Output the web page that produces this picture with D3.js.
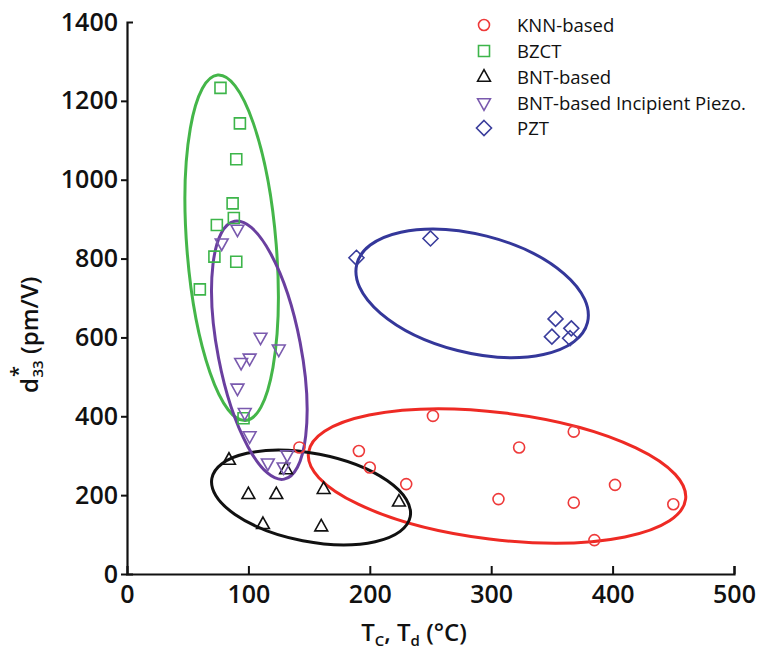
<!DOCTYPE html>
<html><head><meta charset="utf-8">
<script src="https://cdn.jsdelivr.net/npm/d3@7"></script>
<style>body{margin:0;background:#fff}svg{display:block}</style>
</head><body>
<svg id="chart" width="759" height="651"></svg>
<script>
// ---- data ----
const seriesNames = ["KNN-based", "BZCT", "BNT-based", "BNT-based Incipient Piezo.", "PZT"];
const knnT  = [252, 368, 323, 191, 142, 200, 230, 402, 306, 368, 450, 385];
const knnD  = [401, 361, 321, 312, 321, 270, 228, 226, 190, 181, 177, 86];
const bzctT = [77, 93, 90, 87, 88, 74, 72, 90, 60, 96];
const bzctD = [1233, 1143, 1052, 940, 903, 885, 805, 792, 722, 395];
const bntT  = [84, 100, 123, 162, 224, 112, 160, 131];
const bntD  = [289, 202, 202, 215, 183, 126, 120, 265];
const incT  = [91, 78, 110, 125, 101, 94, 91, 97, 101, 116, 129, 132];
const incD  = [874, 839, 600, 570, 547, 536, 471, 409, 350, 281, 271, 302];
const pztT  = [189, 250, 353, 366, 350, 365];
const pztD  = [802, 851, 647, 623, 602, 598];
// cluster ellipses (centre and semi-axes in data units, tilt in degrees)
const ellCx    = [304.8, 86.2, 151.6, 109.0, 284.3];
const ellCy    = [248.5, 827.3, 194.0, 567.6, 711.9];
const ellRx    = [156.5, 36.8, 83.2, 34.2, 98.0];
const ellRy    = [161.0, 439.5, 111.6, 333.0, 149.6];
const ellTilt  = [7, -4.6, 11, -10.9, 14.25];
const xTicks = [0, 100, 200, 300, 400, 500];
const yTicks = [0, 200, 400, 600, 800, 1000, 1200, 1400];

// ---- styles ----
const markerColors = ["#ee3a3a", "#3db54a", "#111111", "#7a5aae", "#3a3d9c"];
const ellColors    = ["#ee2a24", "#44b649", "#111111", "#6a3f9f", "#34379a"];
const shapes = ["circle", "square", "triUp", "triDown", "diamond"];

const svg = d3.select("#chart");
const x = d3.scaleLinear().domain([0, 500]).range([127, 734]);
const y = d3.scaleLinear().domain([0, 1400]).range([574, 22]);
const FONT = "'Open Sans', sans-serif";

function shapePath(s) {
  switch (s) {
    case "circle": return "M5.5,0A5.5,5.5 0 1,1 -5.5,0A5.5,5.5 0 1,1 5.5,0Z";
    case "square": return "M-5.5,-5.5H5.5V5.5H-5.5Z";
    case "triUp": return "M0,-7.3L6.4,4.2L-6.4,4.2Z";
    case "triDown": return "M0,7.3L6.4,-4.2L-6.4,-4.2Z";
    case "diamond": return "M0,-7.5L7.5,0L0,7.5L-7.5,0Z";
  }
}

// ---- ellipses ----
const gE = svg.append("g");
ellCx.forEach((cx, i) => {
  const px = x(cx), py = y(ellCy[i]);
  gE.append("ellipse")
    .attr("cx", px).attr("cy", py)
    .attr("rx", x(ellRx[i]) - x(0))
    .attr("ry", y(0) - y(ellRy[i]))
    .attr("transform", `rotate(${ellTilt[i]},${px},${py})`)
    .attr("fill", "none").attr("stroke", ellColors[i]).attr("stroke-width", 3);
});

// ---- markers ----
const series = [[knnT, knnD], [bzctT, bzctD], [bntT, bntD], [incT, incD], [pztT, pztD]];
series.forEach(([ts, ds], i) => {
  const g = svg.append("g");
  ts.forEach((t, j) => {
    g.append("path").attr("d", shapePath(shapes[i]))
      .attr("transform", `translate(${x(t)},${y(ds[j])})`)
      .attr("fill", "none").attr("stroke", markerColors[i]).attr("stroke-width", 1.6);
  });
});

// ---- axes ----
const xAxis = d3.axisBottom(x).tickValues(xTicks).tickFormat(d3.format("d"))
  .tickSizeInner(-8).tickSizeOuter(-8).tickPadding(11);
const gx = svg.append("g").attr("transform", `translate(0,${y(0)})`).call(xAxis);
const yAxis = d3.axisLeft(y).tickValues(yTicks).tickFormat(d3.format("d"))
  .tickSizeInner(6).tickSizeOuter(-6).tickPadding(3);
const gy = svg.append("g").attr("transform", `translate(${x(0)},0)`).call(yAxis);
gy.selectAll(".tick").filter(d => d === 1400).select("line").remove();
[gx, gy].forEach(g => {
  g.select(".domain").attr("stroke", "#111").attr("stroke-width", 2.2);
  g.selectAll(".tick line").attr("stroke", "#111").attr("stroke-width", 2);
  g.selectAll(".tick text").attr("fill", "#111")
    .style("font-family", FONT).style("font-size", "25px").style("font-weight", 600);
});
gx.selectAll(".tick").filter(d => d === 0).select("line").remove();

// ---- axis titles ----
const xt = svg.append("text").attr("x", 414).attr("y", 641).attr("text-anchor", "middle")
  .attr("fill", "#111").style("font-family", FONT).style("font-size", "24px").style("font-weight", 600);
xt.append("tspan").text("T");
xt.append("tspan").attr("dy", 5).style("font-size", "15px").text("C");
xt.append("tspan").attr("dy", -5).text(", T");
xt.append("tspan").attr("dy", 5).style("font-size", "15px").text("d");
xt.append("tspan").attr("dy", -5).text(" (°C)");

const yt = svg.append("g").attr("transform", "translate(38,393) rotate(-90)")
  .attr("fill", "#111").style("font-family", FONT).style("font-weight", 600);
const dT = yt.append("text").attr("x", 0).attr("y", 0).style("font-size", "24px").text("d");
const dW = dT.node().getComputedTextLength();
yt.append("text").attr("x", dW + 1).attr("y", -13).style("font-size", "20px").text("*");
const sub = yt.append("text").attr("x", dW + 0.5).attr("y", 5).style("font-size", "15px").text("33");
const sW = sub.node().getComputedTextLength();
yt.append("text").attr("x", dW + sW + 7).attr("y", 0).style("font-size", "24px").text("(pm/V)");

// ---- legend ----
const legY = [25, 51, 77, 103, 128];
seriesNames.forEach((name, i) => {
  svg.append("path").attr("d", shapePath(shapes[i]))
    .attr("transform", `translate(484,${legY[i]})`)
    .attr("fill", "none").attr("stroke", markerColors[i]).attr("stroke-width", 1.6);
  svg.append("text").attr("x", 517).attr("y", legY[i]).attr("dy", "0.36em")
    .attr("fill", "#111").style("font-family", FONT).style("font-size", "18.5px").text(name);
});
</script>
</body></html>
